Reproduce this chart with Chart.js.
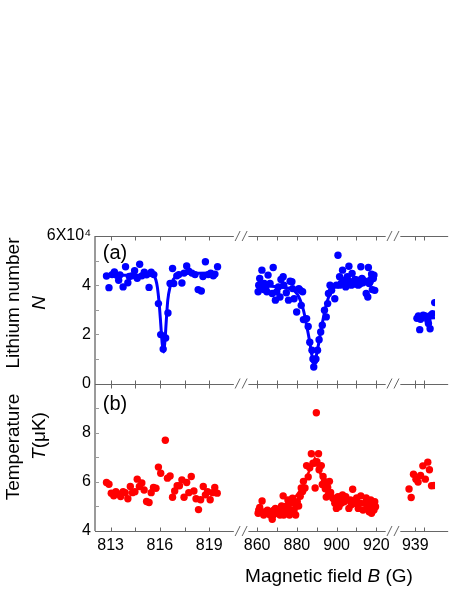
<!DOCTYPE html>
<html>
<head>
<meta charset="utf-8">
<script src="https://cdn.jsdelivr.net/npm/chart.js@4.4.0/dist/chart.umd.min.js"></script>
<style>
  html, body { margin: 0; padding: 0; background: #fff; overflow: hidden; }
  #wrap { width: 457px; height: 591px; }
</style>
</head>
<body>
<div id="wrap"><canvas id="fieldChart" width="457" height="591"></canvas></div>
<script>
// ---- (a) lithium number, units of 1e4 ----
const nField1 = [812.75, 812.90, 813.09, 813.23, 813.38, 813.49, 813.57, 813.76, 813.91, 814.05,
  814.14, 814.29, 814.46, 814.62, 814.77, 814.90, 815.05, 815.19, 815.34, 815.47,
  815.63, 815.91, 816.05, 816.2, 816.35, 816.49, 816.62, 816.77, 816.84, 817.03,
  817.15, 817.34, 817.47, 817.63, 817.76, 817.95, 818.14, 818.33, 818.52, 818.62,
  818.77, 818.94, 819.09, 819.25, 819.35, 819.51];
const nValue1 = [4.37, 3.90, 4.43, 4.54, 4.40, 4.20, 4.42, 3.93, 4.75, 4.10,
  4.35, 4.38, 4.59, 4.28, 4.85, 4.38, 4.53, 4.42, 3.91, 4.53,
  4.43, 3.25, 1.99, 1.40, 1.85, 2.87, 4.07, 4.68, 4.07, 4.38,
  4.43, 4.09, 4.49, 4.78, 4.57, 4.49, 4.43, 3.82, 3.76, 4.35,
  4.95, 4.43, 4.49, 4.38, 4.45, 4.75];
const nFitField1 = [812.75, 815.0, 815.63, 815.76, 815.85, 815.95, 816.05, 816.14, 816.22, 816.31, 816.39, 816.48, 816.62, 816.81, 817.09, 817.76, 819.47];
const nFitValue1 = [4.41, 4.40, 4.38, 4.20, 3.90, 3.30, 2.44, 1.62, 1.28, 1.75, 2.57, 3.39, 3.93, 4.23, 4.38, 4.48, 4.50];

const nField2 = [860.5, 860.8, 861.3, 861.7, 862.4, 863.3, 863.6, 864.4, 864.9, 865.5,
  866.5, 867.6, 868.1, 869.2, 869.9, 870.7, 871.5, 872.0, 873.1, 873.4,
  874.7, 875.8, 876.6, 877.5, 877.8, 878.6, 879.9, 881.0, 881.8, 882.2,
  882.9, 883.3, 884.9, 885.7, 886.5, 887.6, 888.1, 888.5, 888.9, 889.6,
  890.4, 891.2, 892.0, 892.8, 893.9, 894.8, 895.5, 895.9, 896.7, 897.5,
  899.1, 899.9, 900.7, 901.5, 901.6, 902.3, 903.0, 903.3, 903.8, 904.6,
  904.9, 905.4, 906.2, 907.0, 907.4, 907.8, 908.6, 909.1, 909.3, 910.1,
  910.6, 910.9, 911.7, 912.2, 912.8, 913.3, 913.8, 914.9, 915.7, 916.0,
  916.4, 916.9, 917.2, 917.6, 918.0, 918.5, 918.8, 919.2];
const nValue2 = [3.73, 4.00, 4.27, 3.93, 4.61, 3.82, 4.07, 3.93, 3.73, 4.41,
  4.07, 3.66, 4.72, 3.39, 3.73, 3.93, 3.52, 4.23, 4.34, 4.00,
  3.69, 3.39, 4.16, 4.14, 3.86, 3.45, 2.91, 3.86, 3.79, 3.18,
  3.73, 2.60, 2.64, 2.32, 1.68, 1.35, 1.00, 0.67, 0.93, 1.00,
  1.35, 1.78, 2.10, 2.37, 2.98, 2.71, 3.25, 3.66, 4.00, 3.79,
  3.45, 4.00, 5.22, 4.34, 4.00, 4.07, 4.61, 4.14, 4.20, 3.93,
  4.07, 4.34, 4.77, 4.14, 4.00, 4.48, 4.07, 4.05, 4.23, 4.14,
  4.20, 4.00, 4.05, 4.75, 4.27, 4.10, 4.18, 3.66, 3.52, 4.72,
  4.07, 4.14, 4.23, 4.45, 3.82, 4.27, 4.41, 3.79];
const nFitField2 = [859.7, 869.9, 877.8, 881.0, 883.3, 884.9, 886.5, 887.6, 888.5, 889.6, 890.8, 892.0, 893.6, 895.2, 897.5, 901.5, 907.8, 918.8];
const nFitValue2 = [4.03, 3.93, 3.82, 3.52, 2.98, 2.37, 1.68, 1.14, 0.94, 1.07, 1.55, 2.10, 2.77, 3.32, 3.79, 4.07, 4.18, 4.23];

const nField3 = [939.1, 939.19, 939.27, 939.32, 939.48, 939.61, 939.76, 939.8, 939.9, 939.95, 940.05, 940.18];
const nValue3 = [2.65, 2.75, 2.19, 2.61, 2.78, 2.75, 2.57, 2.44, 2.23, 2.78, 2.84, 3.29];
const nFitField3 = [939.1, 940.2];
const nFitValue3 = [2.62, 2.66];

// ---- (b) temperature, uK ----
const tField1 = [812.75, 812.90, 813.04, 813.19, 813.32, 813.47, 813.61, 813.76, 813.89, 814.05,
  814.20, 814.33, 814.48, 814.62, 814.75, 814.90, 815.04, 815.19, 815.34, 815.47,
  815.61, 815.76, 815.91, 816.05, 816.33, 816.46, 816.62, 816.77, 816.90, 817.05,
  817.19, 817.34, 817.47, 817.63, 817.76, 817.91, 818.07, 818.20, 818.35, 818.48,
  818.64, 818.77, 818.90, 819.06, 819.21, 819.34, 819.49];
const tValue1 = [5.97, 5.90, 5.54, 5.43, 5.60, 5.51, 5.40, 5.60, 5.56, 5.31,
  5.81, 5.56, 5.60, 6.11, 5.81, 5.95, 5.67, 5.20, 5.16, 5.56,
  5.77, 5.74, 6.60, 6.35, 7.69, 6.15, 6.24, 5.37, 5.63, 5.84,
  5.84, 6.08, 5.37, 5.97, 5.56, 6.22, 5.63, 5.31, 4.87, 5.27,
  5.81, 5.47, 5.60, 5.27, 5.56, 5.77, 5.54];

const tField2 = [860.5, 860.8, 861.3, 862.1, 862.5, 863.3, 863.6, 864.4, 865.2, 866.0,
  866.5, 867.6, 868.1, 868.4, 869.2, 869.9, 870.7, 871.2, 871.5, 872.3,
  873.1, 873.4, 873.9, 874.7, 875.5, 876.0, 876.3, 877.0, 877.8, 878.6,
  879.4, 879.7, 880.2, 880.9, 881.7, 882.2, 882.9, 883.3, 884.1, 884.9,
  885.7, 886.5, 887.3, 888.1, 888.9, 889.2, 889.8, 890.1, 890.9, 891.2,
  892.3, 892.8, 893.2, 893.9, 894.3, 894.8, 895.5, 895.9, 896.4, 897.0,
  898.0, 898.6, 899.1, 899.9, 900.7, 901.2, 901.5, 902.3, 903.0, 903.8,
  904.6, 905.4, 906.2, 907.0, 907.4, 908.1, 909.1, 910.1, 910.9, 911.7,
  912.2, 913.3, 914.1, 914.9, 915.7, 916.0, 916.4, 917.2, 917.6, 918.0,
  918.8, 919.2, 919.6];
const tValue2 = [4.72, 4.85, 4.96, 4.78, 5.22, 4.65, 4.78, 4.74, 4.85, 4.74,
  4.65, 4.48, 4.65, 4.85, 4.92, 4.72, 4.88, 4.78, 4.65, 5.02,
  5.43, 4.65, 4.78, 4.96, 5.26, 4.88, 4.65, 5.13, 5.33, 4.85,
  4.65, 5.02, 5.19, 5.02, 5.41, 5.75, 5.61, 6.02, 5.75, 6.66,
  6.20, 6.57, 7.14, 6.76, 6.76, 5.75, 8.81, 6.82, 7.14, 6.49,
  6.66, 5.89, 6.22, 6.02, 5.72, 5.38, 5.78, 5.49, 6.02, 5.57,
  5.34, 5.30, 5.13, 4.92, 5.40, 4.99, 5.26, 5.13, 5.47, 5.19,
  5.40, 5.26, 4.92, 5.26, 5.07, 5.70, 5.13, 5.34, 4.92, 5.13,
  5.43, 4.85, 5.13, 5.34, 5.07, 4.96, 4.78, 5.26, 4.72, 5.02,
  4.85, 5.19, 4.99];
const tFitField2 = [860, 870, 878, 883, 886, 889, 892, 895, 898, 902, 910, 918];
const tFitValue2 = [4.75, 4.95, 5.25, 5.80, 6.40, 6.95, 6.30, 5.80, 5.45, 5.25, 5.15, 5.05];

const tField3 = [938.62, 938.75, 938.89, 939.04, 939.17, 939.32, 939.46, 939.61, 939.76, 939.86, 939.99, 940.14];
const tValue3 = [5.71, 5.36, 6.31, 6.11, 5.99, 6.26, 6.65, 6.11, 6.80, 6.49, 5.84, 5.85];

// axis ticks
const xLabels1 = [813, 816, 819];
const xLabels2 = [860, 880, 900, 920];
const xLabels3 = [939];
const xMinor1 = [813, 814.5, 816, 817.5, 819];
const xMinor2 = [860, 870, 880, 890, 900, 910, 920];
const xMinor3 = [939, 939.5];

const FONT = "'Liberation Sans', Arial, Helvetica, sans-serif";
const BLUE = '#0000ff';
const RED = '#ff0000';

function pairs(xs, ys) {
  return xs.map((x, i) => ({ x: x, y: ys[i] }));
}

function dots(xs, ys, color, xId, yId) {
  return {
    data: pairs(xs, ys), xAxisID: xId, yAxisID: yId,
    backgroundColor: color, borderColor: color,
    pointRadius: 3.7, pointBorderWidth: 0, showLine: false
  };
}

function fitLine(xs, ys, color, width, smooth, xId, yId) {
  return {
    data: pairs(xs, ys), xAxisID: xId, yAxisID: yId,
    borderColor: color, backgroundColor: color, borderWidth: width,
    pointRadius: 0, showLine: true, fill: false,
    cubicInterpolationMode: smooth ? 'monotone' : 'default', tension: 0
  };
}

function xAxis(min, max, weight, labels) {
  return {
    type: 'linear', position: 'bottom', stack: 'field', stackWeight: weight,
    min: min, max: max,
    grid: { display: false, drawTicks: false },
    border: { display: false },
    ticks: {
      autoSkip: false, maxRotation: 0, padding: 5, color: '#000',
      font: { family: FONT, size: 16 },
      callback: v => String(v)
    },
    afterBuildTicks: s => { s.ticks = labels.map(v => ({ value: v })); },
    afterFit: s => { s.height = 60; }
  };
}

function yAxis(min, max, labelFn) {
  return {
    type: 'linear', position: 'left', stack: 'panels', stackWeight: 1,
    min: min, max: max,
    grid: { display: false, drawTicks: false },
    border: { display: false },
    ticks: {
      stepSize: 2, padding: 4, color: '#000',
      font: { family: FONT, size: 16 },
      callback: labelFn
    },
    afterFit: s => { s.width = 95; }
  };
}

// pieces of the broken axis: [scale id, from, to]
const segments = [['x1', 812.05, 820.5], ['x2', 855.6, 924.7], ['x3', 938.09, 941]];
const minors = { x1: xMinor1, x2: xMinor2, x3: xMinor3 };

function drawRuns(ctx, runs, x, y, rotate) {
  ctx.save();
  ctx.translate(x, y);
  if (rotate) ctx.rotate(-Math.PI / 2);
  let total = 0;
  runs.forEach(r => { ctx.font = r[1]; total += ctx.measureText(r[0]).width; });
  let pos = -total / 2;
  ctx.textAlign = 'left';
  ctx.textBaseline = 'middle';
  ctx.fillStyle = '#000';
  runs.forEach(r => {
    ctx.font = r[1];
    ctx.fillText(r[0], pos, 0);
    pos += ctx.measureText(r[0]).width;
  });
  ctx.restore();
}

const framePlugin = {
  id: 'frame',
  afterDraw(chart) {
    const ctx = chart.ctx;
    const sc = chart.scales;
    const yN = sc.yN, yT = sc.yT;
    const left = chart.chartArea.left;
    const rows = [yN.top, yN.bottom, yT.bottom];

    ctx.save();
    // left axis
    ctx.strokeStyle = '#9a9a9a';
    ctx.lineWidth = 2;
    ctx.beginPath();
    ctx.moveTo(left, yN.top);
    ctx.lineTo(left, yT.bottom);
    ctx.stroke();
    ctx.lineWidth = 1;
    ctx.beginPath();
    for (let v = 0; v <= 6; v++) {
      const py = Math.round(yN.getPixelForValue(v)) + 0.5;
      ctx.moveTo(left, py); ctx.lineTo(left + 4, py);
    }
    for (let v = 4; v <= 10; v++) {
      const py = Math.round(yT.getPixelForValue(v)) + 0.5;
      ctx.moveTo(left, py); ctx.lineTo(left + 4, py);
    }
    ctx.stroke();

    // horizontal pieces, ticks and break marks
    ctx.strokeStyle = '#666';
    ctx.lineWidth = 1;
    const ends = [];
    segments.forEach(seg => {
      const s = sc[seg[0]];
      const a = s.getPixelForValue(seg[1]);
      const b = Math.min(s.getPixelForValue(seg[2]), chart.width);
      ends.push([a, b]);
      rows.forEach((ry, k) => {
        const py = Math.round(ry) + 0.5;
        ctx.beginPath();
        ctx.moveTo(a, py); ctx.lineTo(b, py);
        minors[seg[0]].forEach(v => {
          const px = Math.round(s.getPixelForValue(v)) + 0.5;
          if (k !== 2) { ctx.moveTo(px, py); ctx.lineTo(px, py + 4); }
          if (k !== 0) { ctx.moveTo(px, py); ctx.lineTo(px, py - 4); }
        });
        ctx.stroke();
      });
    });
    for (let i = 0; i < ends.length - 1; i++) {
      const cx = (ends[i][1] + ends[i + 1][0]) / 2;
      rows.forEach(ry => {
        ctx.beginPath();
        [-3.5, 3.5].forEach(d => {
          ctx.moveTo(cx + d - 2.5, ry + 5);
          ctx.lineTo(cx + d + 2.5, ry - 5);
        });
        ctx.stroke();
      });
    }
    ctx.restore();

    // texts
    const norm = '19px ' + FONT;
    const ital = 'italic 19px ' + FONT;
    drawRuns(ctx, [['(a)', '20px ' + FONT]], 115, yN.top + 17, false);
    drawRuns(ctx, [['(b)', '20px ' + FONT]], 115, yT.top + 21, false);
    drawRuns(ctx, [['Lithium number', norm]], 14, 303, true);
    drawRuns(ctx, [['N', ital]], 40, 303, true);
    drawRuns(ctx, [['Temperature', norm]], 14, 447, true);
    drawRuns(ctx, [['T', ital], ['(\u03bcK)', norm]], 40, 436, true);
    drawRuns(ctx, [['Magnetic field ', norm], ['B', ital], [' (G)', norm]], 329, 577, false);
  }
};

new Chart(document.getElementById('fieldChart'), {
  type: 'scatter',
  data: {
    datasets: [
      fitLine(nFitField1, nFitValue1, BLUE, 3, true, 'x1', 'yN'),
      fitLine(nFitField2, nFitValue2, BLUE, 3, true, 'x2', 'yN'),
      fitLine(nFitField3, nFitValue3, BLUE, 2.5, false, 'x3', 'yN'),
      fitLine(tFitField2, tFitValue2, RED, 2.5, false, 'x2', 'yT'),
      dots(nField1, nValue1, BLUE, 'x1', 'yN'),
      dots(nField2, nValue2, BLUE, 'x2', 'yN'),
      dots(nField3, nValue3, BLUE, 'x3', 'yN'),
      dots(tField1, tValue1, RED, 'x1', 'yT'),
      dots(tField2, tValue2, RED, 'x2', 'yT'),
      dots(tField3, tValue3, RED, 'x3', 'yT')
    ]
  },
  options: {
    responsive: false,
    animation: false,
    events: [],
    layout: { autoPadding: false, padding: { top: 236, left: 0, right: 0, bottom: 0 } },
    plugins: { legend: { display: false }, tooltip: { enabled: false } },
    scales: {
      x1: xAxis(812.05, 820.94, 155.5, xLabels1),
      x2: xAxis(851.91, 928.27, 161.5, xLabels2),
      x3: xAxis(937.63, 940.20, 45, xLabels3),
      yT: yAxis(4, 10, v => (v === 10 ? '' : String(v))),
      yN: yAxis(0, 6, v => (v === 6 ? '6X10\u2074' : String(v)))
    }
  },
  plugins: [framePlugin]
});
</script>
</body>
</html>
